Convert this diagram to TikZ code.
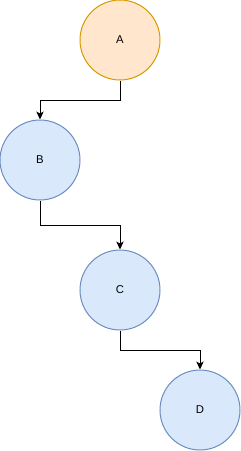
\documentclass[tikz,border=0pt]{standalone}
\usepackage{fontspec}
\setmainfont{Liberation Sans}
\usepackage{tikz}
\usetikzlibrary{arrows.meta,positioning}
\definecolor{orangebg}{HTML}{FFE6CC}
\definecolor{orangeln}{HTML}{D79B00}
\definecolor{bluebg}{HTML}{DAE8FC}
\definecolor{blueln}{HTML}{6C8EBF}

\tikzset{
  vertex/.style={circle,minimum size=60pt,inner sep=0pt,line width=0.75pt,
                 font=\fontsize{8.5}{10}\selectfont},
  rootvertex/.style={vertex,draw=orangeln,fill=orangebg},
  leafvertex/.style={vertex,draw=blueln,fill=bluebg},
  link/.style={draw=black,line width=0.75pt,-{Stealth[length=6pt,width=5.5pt,inset=1.5pt]}}
}

\begin{document}
\begin{tikzpicture}[x=0.75pt,y=-0.75pt]
  \useasboundingbox (0,0) rectangle (241,451);
  \node[rootvertex] (A) at (120,40) {A};
  \node[leafvertex] (B) at (40,160) {B};
  \node[leafvertex] (C) at (120,290) {C};
  \node[leafvertex] (D) at (200,410) {D};

  \draw[link] (A.south) -- ++(0,20) -| (B.north);
  \draw[link] (B.south) -- ++(0,25) -| (C.north);
  \draw[link] (C.south) -- ++(0,20) -| (D.north);
\end{tikzpicture}
\end{document}
